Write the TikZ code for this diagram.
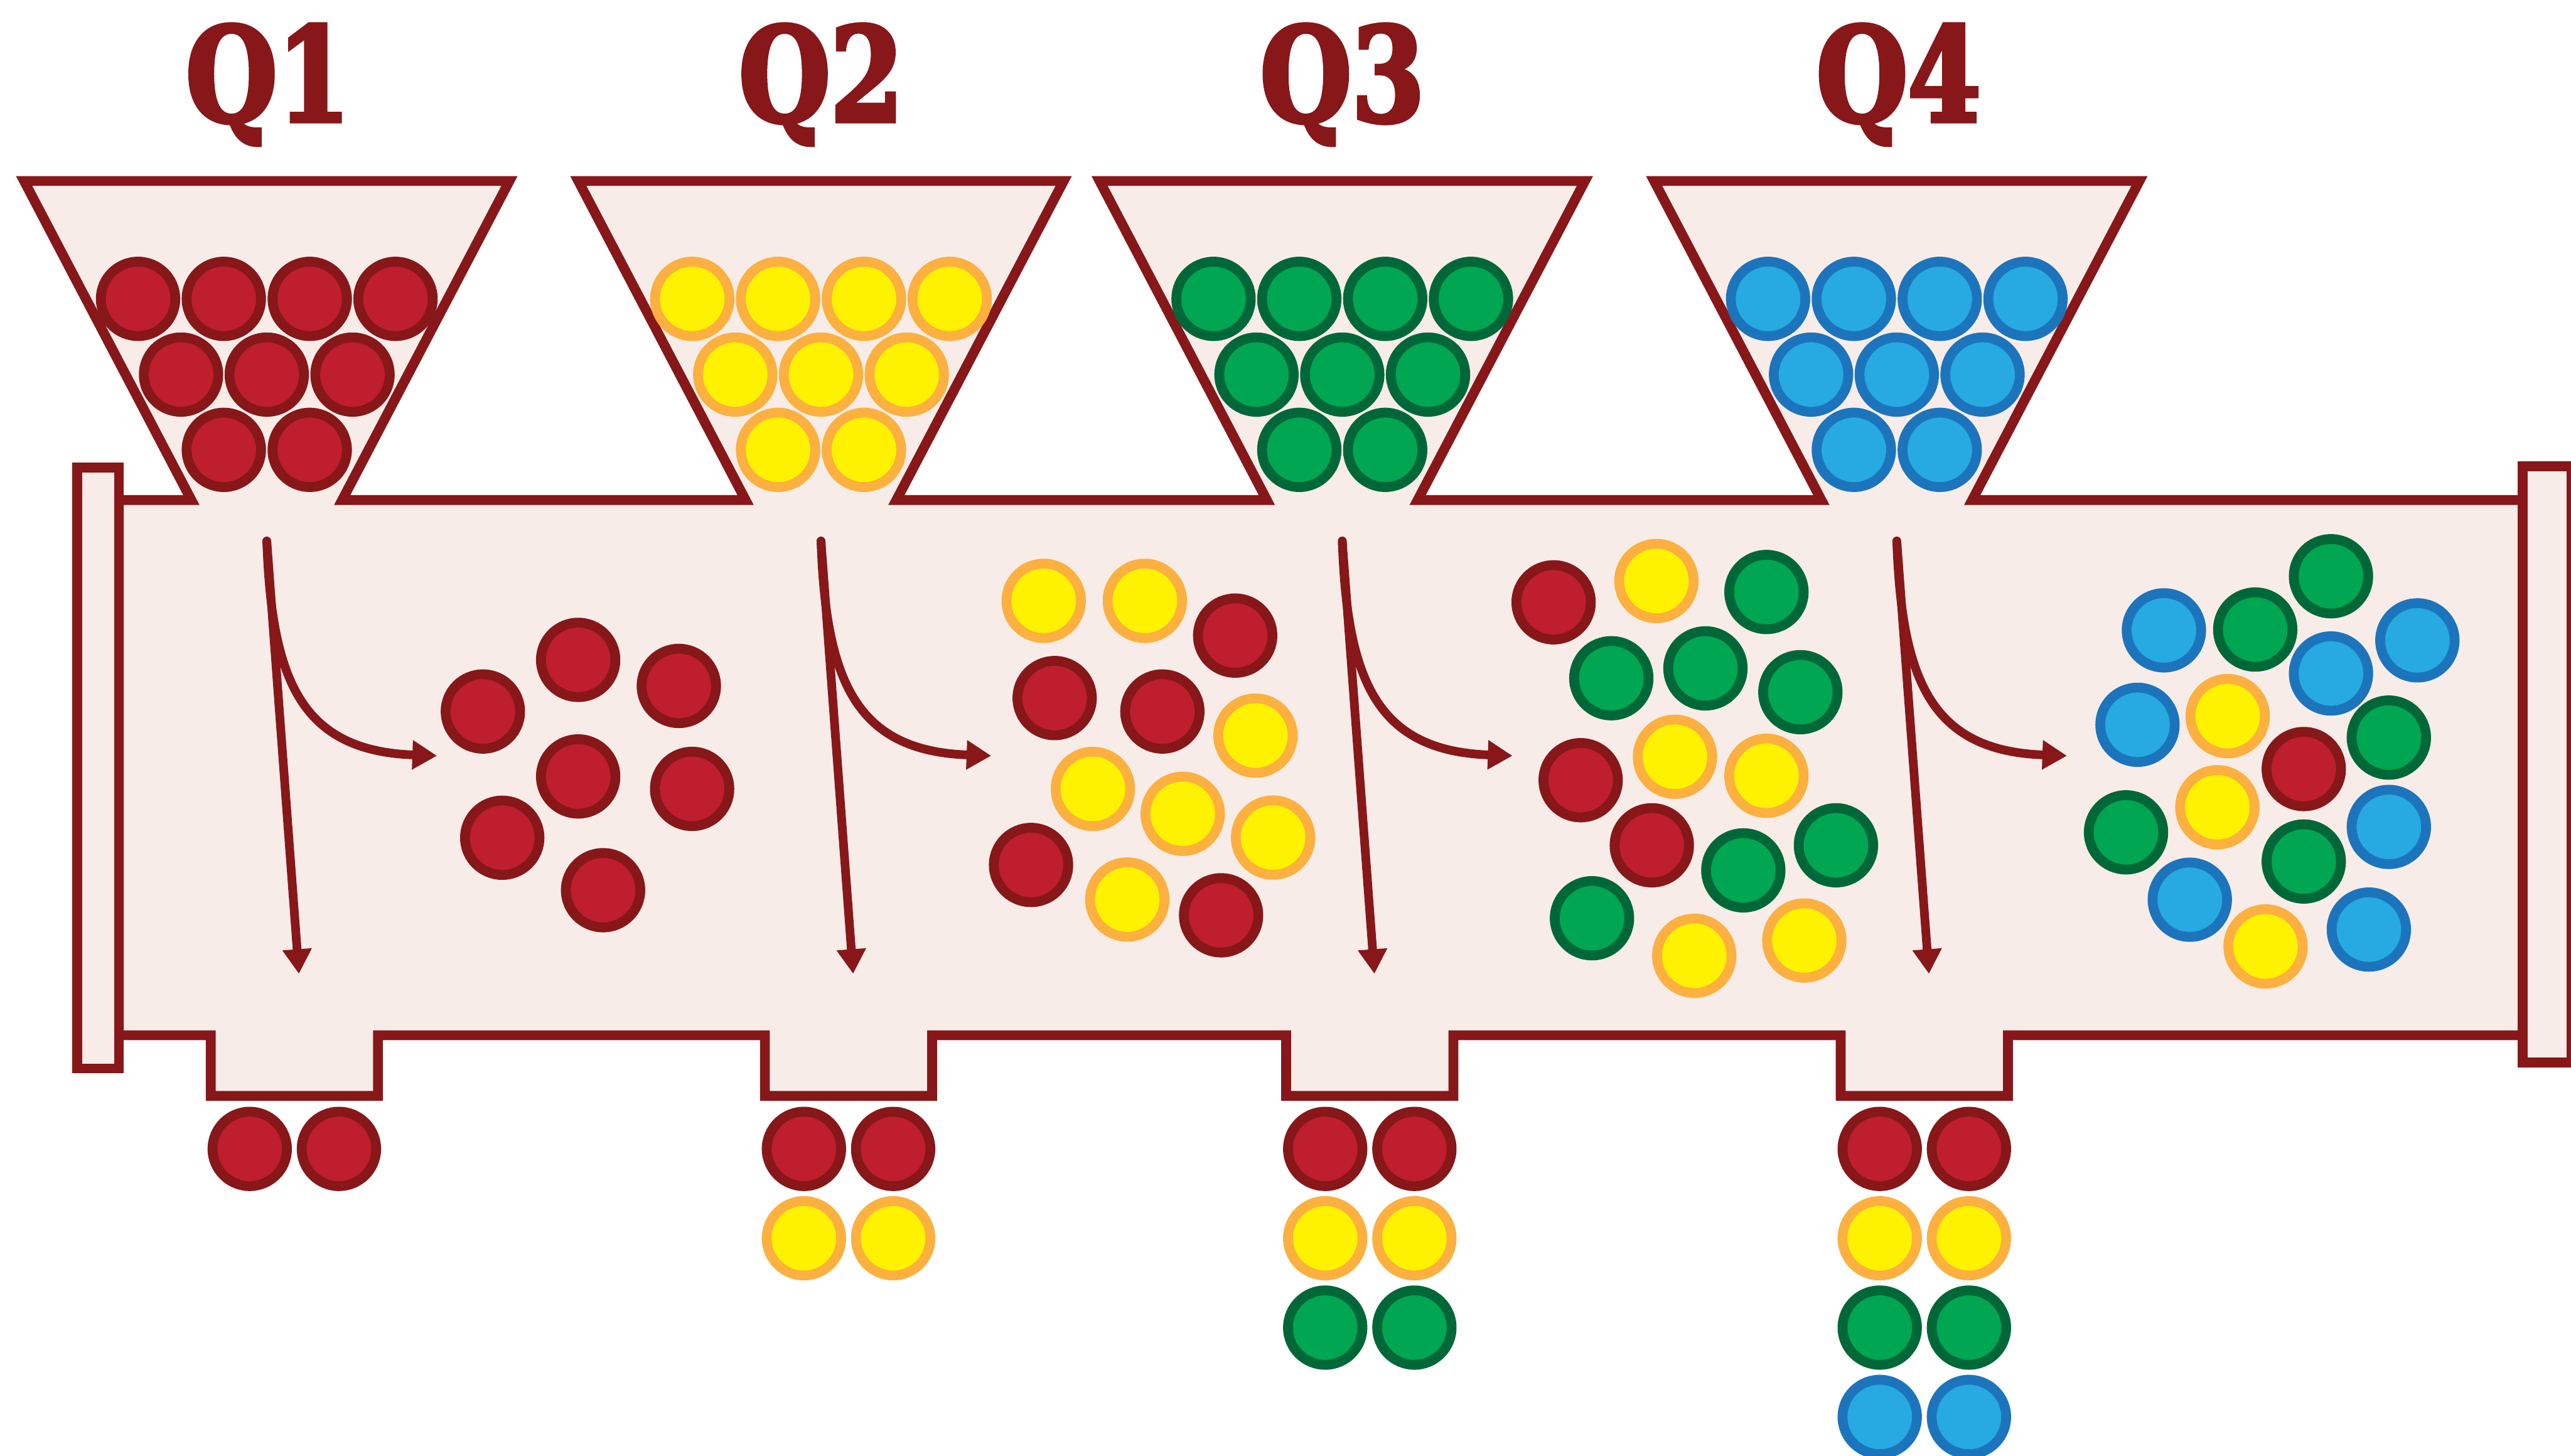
\documentclass[tikz,border=0pt]{standalone}
\usepackage{fontspec}
\newfontfamily\qfont{DejaVu Serif}[FakeStretch=0.80,BoldFeatures={FakeBold=3}]
\usetikzlibrary{arrows.meta,calc}
\definecolor{outl}{HTML}{871719}
\definecolor{pale}{HTML}{F8ECE8}
\definecolor{redfill}{HTML}{BE1E2D}
\definecolor{yelfill}{HTML}{FFF200}
\definecolor{yelline}{HTML}{FBB040}
\definecolor{grnfill}{HTML}{00A651}
\definecolor{grnline}{HTML}{006838}
\definecolor{blufill}{HTML}{27AAE1}
\definecolor{bluline}{HTML}{1C75BC}
\begin{document}
\begin{tikzpicture}[x=1pt,y=-1pt,
  ball/.style={circle,minimum size=45.4pt,inner sep=0pt,line width=6pt},
  rball/.style={ball,fill=redfill,draw=outl},
  yball/.style={ball,fill=yelfill,draw=yelline},
  gball/.style={ball,fill=grnfill,draw=grnline},
  bball/.style={ball,fill=blufill,draw=bluline},
  hull/.style={draw=outl,fill=pale,line width=6pt,miter limit=10},
  flow/.style={draw=outl,line width=5.3pt,line cap=round,-{Triangle[length=15pt,width=17pt]}},
  qlabel/.style={text=outl,font=\qfont\bfseries\fontsize{80}{90}\selectfont,anchor=base,inner sep=0pt}]
\useasboundingbox (0,0) rectangle (1568,888);

% trough with hoppers and outlets
\draw[hull] (72.5,305)
  -- (116.7,305) -- (14.7,110.4) -- (310.7,110.4) -- (208.7,305)
  -- (454.7,305) -- (352.7,110.4) -- (648.7,110.4) -- (546.7,305)
  -- (772.6,305) -- (670.6,110.4) -- (966.6,110.4) -- (864.6,305)
  -- (1110.8,305) -- (1008.8,110.4) -- (1304.8,110.4) -- (1202.8,305)
  -- (1538.5,305) -- (1538.5,631.5)
  -- (1224.6,631.5) -- (1224.6,668.5) -- (1122.6,668.5) -- (1122.6,631.5)
  -- (886.4,631.5) -- (886.4,668.5) -- (784.4,668.5) -- (784.4,631.5)
  -- (568.5,631.5) -- (568.5,668.5) -- (466.5,668.5) -- (466.5,631.5)
  -- (230.5,631.5) -- (230.5,668.5) -- (128.5,668.5) -- (128.5,631.5)
  -- (72.5,631.5) -- cycle;

% end caps
\draw[hull] (47,285.2) rectangle (72.5,651.7);
\draw[hull] (1538.5,284.5) rectangle (1568.3,648);

% labels
\node[qlabel] (q1) at (163.5,74.1) {Q1};
\node[qlabel] (q2) at (500.8,74.1) {Q2};
\node[qlabel] (q3) at (818.7,74.1) {Q3};
\node[qlabel] (q4) at (1157.9,74.1) {Q4};

% hopper balls
\foreach \c/\s/\n in {162.7/rball/1, 500.7/yball/2, 818.6/gball/3, 1156.8/bball/4} {
  \foreach \dx/\yy [count=\k] in {-78.5/182.3, -26.2/182.3, 26.2/182.3, 78.5/182.3,
      -52.3/228.5, 0/228.5, 52.3/228.5, -26.2/274.4, 26.2/274.4}
    \node[\s] (h\n-\k) at ({\c+\dx},\yy) {};
}

% flow arrows
\foreach \c/\n in {162.7/1, 500.7/2, 818.6/3, 1156.8/4} {
  \coordinate (s\n) at (\c,330);
  \coordinate (d\n) at ({\c+19.6},594);
  \coordinate (m\n) at ({\c+103.8},461);
  \draw[flow] (s\n) -- (d\n);
  \draw[flow] (s\n) .. controls ($(s\n)+(3,85)$) and ($(s\n)+(21,128)$) .. (m\n);
}

% mixing zone 1
\node[rball] (a1) at (294.5,434) {};
\node[rball] (a2) at (352.6,402.5) {};
\node[rball] (a3) at (414,418.4) {};
\node[rball] (a4) at (352.6,473.6) {};
\node[rball] (a5) at (422.1,481.2) {};
\node[rball] (a6) at (306.3,511) {};
\node[rball] (a7) at (367.8,543) {};

% mixing zone 2
\node[yball] (b1) at (636.5,366.5) {};
\node[yball] (b2) at (698.2,366.5) {};
\node[rball] (b3) at (753.3,387.7) {};
\node[rball] (b4) at (643.2,425.8) {};
\node[rball] (b5) at (708.9,434) {};
\node[yball] (b6) at (765.7,448.7) {};
\node[yball] (b7) at (666.5,481.2) {};
\node[yball] (b8) at (721.3,496.4) {};
\node[yball] (b9) at (776.4,510.9) {};
\node[rball] (b10) at (628.8,527.6) {};
\node[yball] (b11) at (687.5,548.7) {};
\node[rball] (b12) at (744.7,558.3) {};

% mixing zone 3
\node[rball] (c1) at (947.5,367.4) {};
\node[yball] (c2) at (1010.2,354.4) {};
\node[gball] (c3) at (1077.3,361.1) {};
\node[gball] (c4) at (982.7,413.7) {};
\node[gball] (c5) at (1040.1,407.7) {};
\node[gball] (c6) at (1098,422.2) {};
\node[yball] (c7) at (1021.5,461.6) {};
\node[yball] (c8) at (1077.3,473.2) {};
\node[rball] (c9) at (964,475.9) {};
\node[rball] (c10) at (1007.4,515.6) {};
\node[gball] (c11) at (1063.2,530.9) {};
\node[gball] (c12) at (1119.7,515.6) {};
\node[gball] (c13) at (970.9,560.1) {};
\node[yball] (c14) at (1033.3,583) {};
\node[yball] (c15) at (1100.4,573.7) {};

% mixing zone 4
\node[gball] (e1) at (1421.6,351.5) {};
\node[bball] (e2) at (1319.7,384.5) {};
\node[gball] (e3) at (1375.4,384) {};
\node[bball] (e4) at (1474.3,390.6) {};
\node[bball] (e5) at (1421.6,410.8) {};
\node[bball] (e6) at (1303.6,442.1) {};
\node[yball] (e7) at (1358.6,436.8) {};
\node[gball] (e8) at (1456.9,449.9) {};
\node[rball] (e9) at (1405,469.1) {};
\node[yball] (e10) at (1352.3,492.4) {};
\node[gball] (e11) at (1296.6,507.7) {};
\node[bball] (e12) at (1456.9,504.4) {};
\node[gball] (e13) at (1405,525.5) {};
\node[bball] (e14) at (1335.5,548.8) {};
\node[bball] (e15) at (1444.7,567) {};
\node[yball] (e16) at (1381.7,577.3) {};

% outlet balls
\foreach \x/\n in {152.3/1, 206.7/2} \node[rball] (o1-\n) at (\x,700.8) {};
\foreach \x/\n in {490.3/1, 544.7/2} {
  \node[rball] (o2r-\n) at (\x,700.8) {};
  \node[yball] (o2y-\n) at (\x,755.3) {};
}
\foreach \x/\n in {808.2/1, 862.6/2} {
  \node[rball] (o3r-\n) at (\x,700.8) {};
  \node[yball] (o3y-\n) at (\x,755.3) {};
  \node[gball] (o3g-\n) at (\x,809.8) {};
}
\foreach \x/\n in {1146.4/1, 1200.8/2} {
  \node[rball] (o4r-\n) at (\x,700.8) {};
  \node[yball] (o4y-\n) at (\x,755.3) {};
  \node[gball] (o4g-\n) at (\x,809.8) {};
  \node[bball] (o4b-\n) at (\x,864.3) {};
}
\end{tikzpicture}
\end{document}
